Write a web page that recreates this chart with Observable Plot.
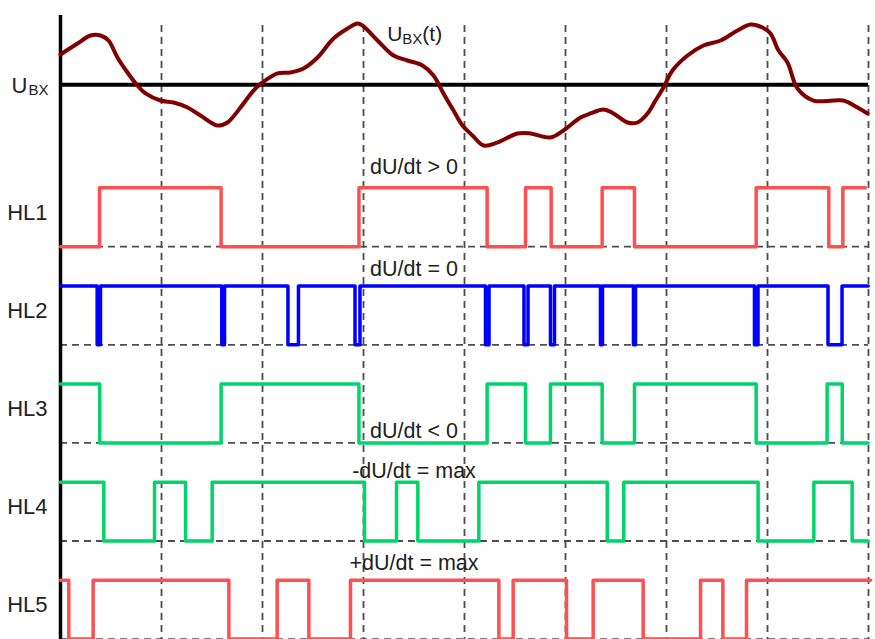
<!DOCTYPE html>
<html><head><meta charset="utf-8">
<script src="https://cdn.jsdelivr.net/npm/d3@7"></script>
<script src="https://cdn.jsdelivr.net/npm/@observablehq/plot@0.6"></script>
<style>
html,body{margin:0;padding:0;background:#fff;}
#chart svg{display:block;}
</style></head><body><div id="chart"></div>
<script>
// Time axis in grid divisions (dashed verticals at t = 1..8), levels in lane units.
const gridTimes = [1, 2, 3, 4, 5, 6, 7, 8];
const laneNames = ["HL1", "HL2", "HL3", "HL4", "HL5"];
const laneColors = ["#ff5050", "#0000ff", "#00d46a", "#00d46a", "#ff5050"];
const laneStart = [0, 1, 1, 1, 1];
const laneEnd = [7.97, 7.997, 7.997, 7.997, 8.02];
const hl1Edges = [0.386, 1.59, 2.955, 4.224, 4.604, 4.858, 5.363, 5.683, 6.888, 7.607, 7.746];
const hl2Edges = [0.363, 0.396, 1.597, 1.624, 2.252, 2.356, 2.916, 2.965, 4.208, 4.243, 4.589, 4.629, 4.851, 4.891, 5.346, 5.366, 5.673, 5.693, 6.871, 6.906, 7.599, 7.738];
const hl3Edges = [0.389, 1.59, 2.955, 4.224, 4.604, 4.851, 5.363, 5.683, 6.888, 7.59, 7.74];
const hl4Edges = [0.429, 0.931, 1.238, 1.502, 3.01, 3.327, 3.538, 4.142, 5.413, 5.577, 6.907, 7.459, 7.838];
const hl5Edges = [0.082, 0.323, 1.667, 2.145, 2.459, 2.871, 4.34, 4.482, 5.01, 5.274, 5.769, 6.337, 6.558, 6.792];
const laneEdges = [hl1Edges, hl2Edges, hl3Edges, hl4Edges, hl5Edges];
const levelAmp = 0.6;

// Input voltage curve U_BX(t)
const ubxLevel = 0.65;
const uT = [0, 0.168, 0.297, 0.396, 0.475, 0.564, 0.663, 0.762, 0.842, 0.99, 1.119, 1.257, 1.386, 1.554, 1.653, 1.782, 1.911, 2.0, 2.149, 2.277, 2.406, 2.545, 2.703, 2.842, 2.941, 2.99, 3.139, 3.297, 3.436, 3.584, 3.693, 3.792, 3.891, 3.98, 4.079, 4.188, 4.327, 4.525, 4.653, 4.851, 4.98, 5.149, 5.248, 5.376, 5.475, 5.614, 5.713, 5.812, 5.891, 5.97, 6.059, 6.208, 6.366, 6.535, 6.703, 6.832, 6.95, 7.03, 7.109, 7.198, 7.297, 7.455, 7.653, 7.752, 7.891, 7.99];
const uV = [0.959, 1.071, 1.153, 1.153, 1.102, 0.929, 0.776, 0.643, 0.562, 0.49, 0.47, 0.419, 0.337, 0.235, 0.266, 0.419, 0.592, 0.674, 0.766, 0.776, 0.817, 0.929, 1.122, 1.224, 1.275, 1.255, 1.102, 0.949, 0.898, 0.847, 0.745, 0.562, 0.388, 0.235, 0.134, 0.032, 0.063, 0.154, 0.154, 0.113, 0.185, 0.317, 0.358, 0.399, 0.358, 0.266, 0.266, 0.358, 0.49, 0.623, 0.796, 0.949, 1.051, 1.102, 1.204, 1.265, 1.234, 1.173, 1.0, 0.878, 0.613, 0.49, 0.49, 0.49, 0.419, 0.358];

// Annotations
const condLabels = ["dU/dt > 0", "dU/dt = 0", "dU/dt < 0", "-dU/dt = max", "+dU/dt = max"];
const condY = [-0.264, -1.294, -2.945, -3.353, -4.291];
const condX = 3.5;
const titleX = 3.234, titleY = 1.097, titleSubY = 1.068;
const ubxLabelY = 0.562, ubxSubY = 0.551;
const axisTop = 1.357, gridTop = 1.254, bottomY = -5.05;

const uData = uT.map((t, i) => ({t, u: uV[i]}));
function steps(edges, start, end) {
  let v = start;
  const pts = [{t: 0, v}];
  for (const e of edges) { v = 1 - v; pts.push({t: e, v}); }
  pts.push({t: end, v});
  return pts;
}

const font = "'Liberation Sans', Arial, sans-serif";
const dashStyle = {stroke: "#4d4d4d", strokeWidth: 1.8, strokeDasharray: "7,5"};
const marks = [
  Plot.ruleX(gridTimes, {y1: gridTop, y2: bottomY, ...dashStyle}),
  Plot.ruleY(laneNames.map((d, i) => i + 1), {y: d => -d, x1: 0, x2: 8, ...dashStyle}),
  Plot.ruleX([0], {y1: axisTop, y2: bottomY, stroke: "#000", strokeWidth: 3.5}),
  Plot.ruleY([ubxLevel], {x1: 0, x2: 8, stroke: "#000", strokeWidth: 4}),
  Plot.line(uData, {x: "t", y: "u", stroke: "#800000", strokeWidth: 4, curve: "catmull-rom"}),
  ...laneEdges.map((edges, k) => Plot.line(steps(edges, laneStart[k], laneEnd[k]), {
    x: "t", y: d => -(k + 1) + levelAmp * d.v, curve: "step-after",
    stroke: laneColors[k], strokeWidth: 3.5
  })),
  Plot.text(laneNames, {x: 0, y: (d, i) => -(i + 1), text: d => d, textAnchor: "end", lineAnchor: "bottom", dx: -13, dy: -27, fontSize: 22, fill: "#222"}),
  Plot.text(condLabels, {x: condX, y: (d, i) => condY[i], text: d => d, textAnchor: "middle", lineAnchor: "bottom", fontSize: 21.5, fill: "#222"}),
  Plot.text(["U"], {x: 0, y: ubxLabelY, text: d => d, textAnchor: "end", lineAnchor: "bottom", dx: -33, fontSize: 22, fill: "#222"}),
  Plot.text(["BX"], {x: 0, y: ubxSubY, text: d => d, textAnchor: "end", lineAnchor: "bottom", dx: -12, fontSize: 15, fill: "#222"}),
  Plot.text(["U"], {x: titleX, y: titleY, text: d => d, textAnchor: "start", lineAnchor: "bottom", fontSize: 21, fill: "#222"}),
  Plot.text(["BX"], {x: titleX, y: titleSubY, text: d => d, textAnchor: "start", lineAnchor: "bottom", dx: 15.2, fontSize: 15, fill: "#222"}),
  Plot.text(["(t)"], {x: titleX, y: titleY, text: d => d, textAnchor: "start", lineAnchor: "bottom", dx: 35.2, fontSize: 21, fill: "#222"})
];

const chart = Plot.plot({
  width: 875, height: 639,
  marginTop: 0, marginRight: 0, marginBottom: 0, marginLeft: 0,
  x: {domain: [0, 8], range: [60, 868], axis: null},
  y: {domain: [-5, 1.5], range: [638.6, 0.95], axis: null},
  style: {fontFamily: font, background: "#fff", overflow: "visible"},
  marks
});
document.getElementById("chart").append(chart);
</script></body></html>
